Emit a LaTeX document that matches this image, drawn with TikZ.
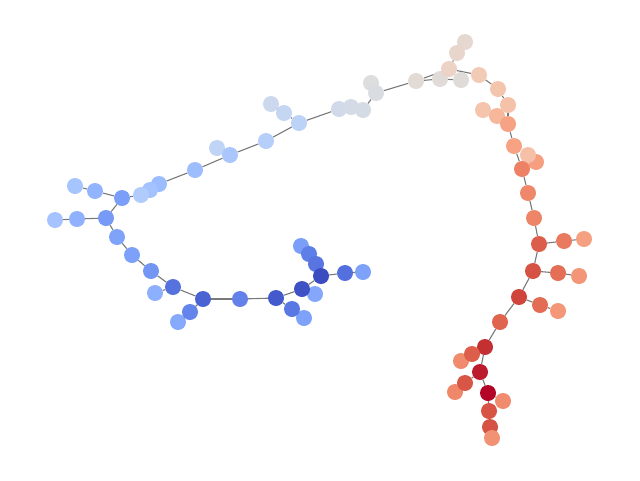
\documentclass[tikz,border=0pt]{standalone}
\usetikzlibrary{backgrounds}
\begin{document}
\begin{tikzpicture}[x=1pt,y=-1pt,
  nd/.style={circle,draw=none,minimum size=16pt,inner sep=0pt},
  ed/.style={draw=gray!95!black,line width=1.1pt}]
\useasboundingbox (0,0) rectangle (640,480);
\def\N#1#2#3#4{\definecolor{c#1}{HTML}{#4}\node[nd,fill=c#1] (#1) at (#2,#3) {};}
% left branch
\N{A1}{75}{186}{A6C4FE}
\N{A2}{95}{191}{92B4FE}
\N{A3}{122}{198}{7B9FF9}
\N{A6}{159}{184}{9BBCFF}
\N{A5}{150}{190}{A3C2FE}
\N{A4}{141}{195}{B0CBFC}
\N{A7}{55}{220}{A5C3FE}
\N{A8}{77}{219}{8FB1FE}
\N{A9}{106}{218}{779AF7}
\N{A10}{117}{237}{80A3FA}
\N{A11}{132}{255}{7DA0F9}
\N{A12}{151}{271}{7396F5}
\N{A14}{155}{293}{8DB0FE}
\N{A13}{173}{287}{5572DF}
\N{A15}{203}{299}{4A63D3}
\N{A17}{178}{322}{86A9FC}
\N{A16}{190}{312}{6384EB}
\N{A18}{240}{299}{6282EA}
\N{A19}{276}{298}{445ACC}
\N{A21}{304}{318}{7EA1FA}
\N{A20}{292}{309}{5A78E4}
\N{A23}{315}{294}{84A7FC}
\N{A22}{302}{289}{3E51C5}
\N{A27}{301}{246}{7B9FF9}
\N{A26}{309}{254}{5F7FE8}
\N{A25}{316}{264}{5875E1}
\N{A24}{321}{276}{3B4CC0}
\N{A28}{345}{273}{5470DE}
\N{A29}{363}{272}{7EA1FA}
% upper chain
\N{B1}{195}{170}{9DBDFF}
\N{B2}{217}{148}{C0D4F5}
\N{B3}{230}{155}{A9C6FD}
\N{B4}{266}{141}{B6CEFA}
\N{B5}{271}{104}{CBD8EE}
\N{B6}{284}{113}{C5D6F2}
\N{B7}{299}{123}{BCD2F7}
\N{B8}{339}{109}{D1DAE9}
\N{B9}{351}{107}{D4DBE6}
\N{B10}{363}{110}{D5DBE5}
\N{B11}{371}{83}{DCDDDD}
\N{B12}{376}{93}{D9DCE1}
\N{B13}{416}{81}{E2DAD5}
\N{B14}{440}{79}{E0DBD8}
\N{B15}{461}{80}{DFDBD9}
\N{B18}{465}{42}{E5D8D1}
\N{B17}{457}{53}{E8D6CC}
\N{B16}{449}{69}{ECD3C5}
\N{B19}{479}{75}{F2CBB7}
\N{B20}{498}{89}{F4C5AD}
\N{B22}{483}{110}{F5C4AC}
\N{B23}{497}{116}{F7B79B}
\N{B21}{508}{105}{F5C1A9}
\N{B24}{508}{124}{F6A385}
\N{B25}{514}{146}{F6A283}
\N{B27}{536}{162}{F59F80}
\N{B26}{528}{155}{F5C0A7}
\N{B28}{522}{169}{EC8165}
\N{B29}{528}{193}{EF886B}
\N{B30}{534}{218}{EE8468}
\N{B31}{539}{244}{DC5D4A}
\N{B32}{564}{241}{E97A5F}
\N{B33}{584}{239}{F5A081}
\N{B34}{533}{271}{D65244}
\N{B35}{558}{273}{E46E56}
\N{B36}{579}{276}{F39577}
\N{B37}{519}{297}{CF453C}
\N{B38}{540}{305}{E36C55}
\N{B39}{558}{311}{F39778}
\N{B40}{500}{322}{E0654F}
\N{B41}{485}{347}{C43032}
\N{B43}{461}{361}{F08B6E}
\N{B42}{472}{354}{DD5F4B}
\N{B44}{480}{372}{BB1B2C}
\N{B46}{455}{392}{EF886B}
\N{B45}{465}{383}{D85646}
\N{B47}{488}{393}{B40426}
\N{B48}{503}{401}{F08B6E}
\N{B49}{489}{411}{D75445}
\N{B50}{490}{427}{D65244}
\N{B51}{492}{438}{F29274}
\begin{scope}[on background layer]
\foreach \a/\b in {A1/A2,A2/A3,A3/A4,A4/A5,A5/A6,A3/A9,A9/A8,A8/A7,A9/A10,A10/A11,A11/A12,A12/A13,A13/A14,A13/A15,A15/A16,A16/A17,A15/A18,A18/A19,A19/A20,A20/A21,A19/A22,A22/A23,A22/A24,A24/A25,A25/A26,A26/A27,A24/A28,A28/A29,
A6/B1,B1/B3,B3/B2,B3/B4,B4/B7,B7/B6,B6/B5,B7/B8,B8/B9,B9/B10,B10/B12,B12/B11,B12/B13,B13/B14,B14/B15,B13/B16,B16/B17,B17/B18,B16/B19,B19/B20,B20/B21,B21/B24,B24/B22,B24/B23,B24/B25,B25/B28,B28/B26,B28/B27,B28/B29,B29/B30,B30/B31,B31/B32,B32/B33,B31/B34,B34/B35,B35/B36,B34/B37,B37/B38,B38/B39,B37/B40,B40/B41,B41/B42,B42/B43,B41/B44,B44/B45,B45/B46,B44/B47,B47/B48,B47/B49,B49/B50,B50/B51}
  \draw[ed] (\a) -- (\b);
\end{scope}
\end{tikzpicture}
\end{document}
